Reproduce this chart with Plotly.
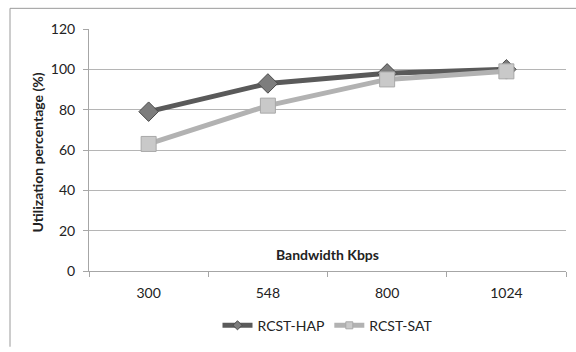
import plotly.graph_objects as go

# Bandwidth categories and utilization (%) per terminal type
bandwidth = ["300", "548", "800", "1024"]
rcst_hap = [79, 93, 98, 100]
rcst_sat = [63, 82, 95, 99]
y_ticks = [0, 20, 40, 60, 80, 100, 120]

FONT = "Lato, 'Open Sans', sans-serif"
GRID = "#b5b5b5"
FRAME = "#9a9a9a"

W, H = 576, 352
M = dict(l=89, r=10, t=29, b=77)
PW, PH = W - M["l"] - M["r"], H - M["t"] - M["b"]

series = [
    dict(name="RCST-HAP", y=rcst_hap, line="#5a5a5a", symbol="diamond",
         fill="#7d7d7d", edge="#4a4a4a"),
    dict(name="RCST-SAT", y=rcst_sat, line="#b2b2b2", symbol="square",
         fill="#c9c9c9", edge="#a8a8a8"),
]

fig = go.Figure()

for s in series:
    # data trace
    fig.add_trace(go.Scatter(
        x=bandwidth, y=s["y"], name=s["name"], mode="lines+markers",
        showlegend=False,
        line=dict(color=s["line"], width=5),
        marker=dict(symbol=s["symbol"], size=15, color=s["fill"],
                    line=dict(color=s["edge"], width=1)),
    ))
for s in series:
    # legend entry with a smaller marker
    fig.add_trace(go.Scatter(
        x=[None], y=[None], name=s["name"], mode="lines+markers",
        line=dict(color=s["line"], width=5),
        marker=dict(symbol=s["symbol"], size=7, color=s["fill"],
                    line=dict(color=s["edge"], width=1)),
    ))

# chart frame (left and top edges), kept inside the page
fx0 = (10 - M["l"]) / PW
fx1 = (W - M["l"]) / PW
fy_top = 1 + (M["t"] - 8) / PH
fy_bot = -M["b"] / PH

fig.update_layout(
    width=W, height=H,
    margin=M,
    paper_bgcolor="white", plot_bgcolor="white",
    font=dict(family=FONT, size=14, color="#222222"),
    showlegend=True,
    legend=dict(orientation="h", x=0.5, xanchor="center", y=-0.16,
                yanchor="top", font=dict(size=14), itemwidth=30,
                tracegroupgap=0),
    xaxis=dict(
        type="category", range=[-0.5, 3.5],
        showgrid=False, showline=True, linecolor="#a6a6a6", linewidth=1,
        ticks="outside", tickson="boundaries", ticklen=5, tickcolor="#a6a6a6",
        tickfont=dict(size=14), ticklabelstandoff=9, zeroline=False,
    ),
    yaxis=dict(
        range=[0, 120], tickvals=y_ticks,
        showgrid=True, gridcolor=GRID, gridwidth=1,
        showline=True, linecolor="#a6a6a6", linewidth=1,
        ticks="outside", ticklen=5, tickcolor="#a6a6a6",
        tickfont=dict(size=14), ticklabelstandoff=5, zeroline=False,
    ),
    shapes=[
        dict(type="line", xref="paper", yref="paper",
             x0=fx0, x1=fx0, y0=fy_bot, y1=fy_top,
             line=dict(color=FRAME, width=1)),
        dict(type="line", xref="paper", yref="paper",
             x0=fx0, x1=fx1, y0=fy_top, y1=fy_top,
             line=dict(color=FRAME, width=1)),
    ],
    annotations=[
        dict(text="<b>Bandwidth Kbps</b>", xref="paper", yref="paper",
             x=0.5, y=0.069, xanchor="center", yanchor="middle",
             showarrow=False, font=dict(size=14)),
        dict(text="<b>Utilization percentage (%)</b>", xref="paper",
             yref="paper", x=-0.109, y=0.49, xanchor="center",
             yanchor="middle", textangle=-90, showarrow=False,
             font=dict(size=14)),
    ],
)

fig.write_html("out.html")
